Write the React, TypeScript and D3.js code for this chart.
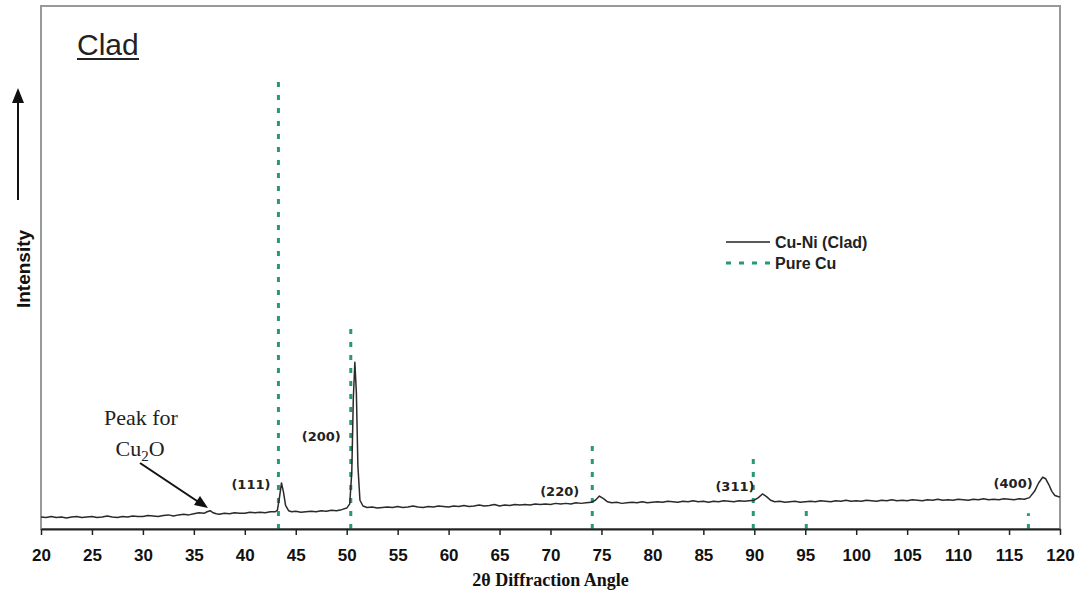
import React, { useEffect, useRef } from 'react';
import * as d3 from 'd3';

// Cu-Ni (Clad) scan: [2θ, intensity (a.u.)]
const cladScan: [number, number][] = [
  [20, 23], [20.5, 22], [21, 24], [21.5, 22], [22, 23], [22.5, 21], [23, 23], [23.5, 24], [24, 22], [24.5, 23],
  [25, 24], [25.5, 22], [26, 23], [26.5, 25], [27, 23], [27.5, 22], [28, 24], [28.5, 23], [29, 25], [29.5, 24],
  [30, 24], [30.5, 26], [31, 25], [31.5, 24], [32, 26], [32.5, 27], [33, 25], [33.5, 27], [34, 28], [34.5, 27],
  [35, 29], [35.5, 31], [36, 30], [36.3, 33], [36.6, 35], [36.9, 31], [37.2, 29], [37.5, 28], [38, 30], [38.5, 29],
  [39, 31], [39.5, 30], [40, 30], [40.5, 32], [41, 31], [41.5, 32], [42, 31], [42.5, 33], [43, 33], [43.2, 36],
  [43.4, 60], [43.6, 88], [43.8, 70], [44, 45], [44.3, 35], [44.6, 33], [45, 34], [45.5, 32], [46, 33], [46.5, 34],
  [47, 33], [47.5, 35], [48, 34], [48.5, 36], [49, 35], [49.5, 37], [50, 40], [50.3, 48], [50.5, 110], [50.65, 250],
  [50.8, 319], [50.95, 260], [51.1, 120], [51.3, 55], [51.6, 44], [52, 41], [52.5, 42], [53, 40], [53.5, 41], [54, 42],
  [54.5, 41], [55, 43], [55.5, 41], [56, 42], [56.5, 44], [57, 42], [57.5, 41], [58, 43], [58.5, 42], [59, 44],
  [59.5, 43], [60, 42], [60.5, 44], [61, 43], [61.5, 45], [62, 43], [62.5, 44], [63, 46], [63.5, 44], [64, 45],
  [64.5, 47], [65, 44], [65.5, 46], [66, 45], [66.5, 47], [67, 46], [67.5, 47], [68, 46], [68.5, 48], [69, 47],
  [69.5, 48], [70, 47], [70.5, 49], [71, 48], [71.5, 49], [72, 48], [72.5, 50], [73, 49], [73.5, 50], [74, 51],
  [74.4, 55], [74.8, 63], [75.2, 58], [75.6, 52], [76, 50], [76.5, 51], [77, 49], [77.5, 50], [78, 51], [78.5, 50],
  [79, 52], [79.5, 50], [80, 51], [80.5, 52], [81, 51], [81.5, 53], [82, 52], [82.5, 51], [83, 53], [83.5, 52],
  [84, 54], [84.5, 52], [85, 53], [85.5, 51], [86, 53], [86.5, 52], [87, 54], [87.5, 53], [88, 52], [88.5, 54],
  [89, 53], [89.5, 54], [90, 55], [90.4, 60], [90.8, 67], [91.2, 62], [91.6, 55], [92, 52], [92.5, 53], [93, 51],
  [93.5, 52], [94, 53], [94.5, 51], [95, 52], [95.5, 53], [96, 52], [96.5, 54], [97, 53], [97.5, 52], [98, 54],
  [98.5, 53], [99, 55], [99.5, 53], [100, 54], [100.5, 53], [101, 55], [101.5, 54], [102, 53], [102.5, 55], [103, 54],
  [103.5, 56], [104, 54], [104.5, 55], [105, 54], [105.5, 56], [106, 55], [106.5, 54], [107, 56], [107.5, 55], [108, 57],
  [108.5, 55], [109, 56], [109.5, 55], [110, 57], [110.5, 56], [111, 55], [111.5, 57], [112, 56], [112.5, 58], [113, 56],
  [113.5, 57], [114, 56], [114.5, 58], [115, 57], [115.5, 56], [116, 58], [116.5, 57], [117, 60], [117.5, 72], [117.9, 88],
  [118.3, 99], [118.6, 96], [118.9, 85], [119.2, 72], [119.5, 64], [119.8, 62], [120, 61],
];

// Pure Cu reference lines
const pureCuAngle = [43.3, 50.4, 74.1, 89.9, 95.1, 116.9];
const pureCuIntensity = [855, 396, 170, 147, 46, 30];

// hkl labels: text, anchor angle, height (a.u.)
const hklLabels = ['(111)', '(200)', '(220)', '(311)', '(400)'];
const hklAngle = [40.6, 47.5, 70.9, 88.1, 115.4];
const hklLevel = [77, 169, 63, 72, 79];

const xTicks = d3.range(20, 121, 5);

export default function App() {
  const svgRef = useRef<SVGSVGElement>(null);

  useEffect(() => {
    const width = 1081;
    const height = 595;
    const m = { left: 41, right: 21, top: 6, bottom: 66 };
    const svg = d3.select(svgRef.current);
    svg.selectAll('*').remove();
    svg.attr('width', width).attr('height', height);

    const x = d3.scaleLinear().domain([20, 120]).range([m.left, width - m.right]);
    const y = d3.scaleLinear().domain([0, 1000]).range([height - m.bottom, m.top]);

    const green = '#2a9870';
    const sans = 'Arial, "Liberation Sans", sans-serif';

    svg.append('rect').attr('width', width).attr('height', height).attr('fill', '#fff');

    // plot frame
    svg.append('rect')
      .attr('x', m.left).attr('y', m.top)
      .attr('width', width - m.left - m.right).attr('height', height - m.top - m.bottom)
      .attr('fill', 'none').attr('stroke', '#999').attr('stroke-width', 2);

    // pure Cu dashed lines
    svg.selectAll('line.cu')
      .data(pureCuAngle)
      .enter()
      .append('line')
      .attr('class', 'cu')
      .attr('x1', d => x(d)).attr('x2', d => x(d))
      .attr('y1', y(0)).attr('y2', (d, i) => y(pureCuIntensity[i]))
      .attr('stroke', green).attr('stroke-width', 3)
      .attr('stroke-dasharray', '5,8');

    // clad scan
    const line = d3.line<[number, number]>().x(d => x(d[0])).y(d => y(d[1]));
    svg.append('path')
      .attr('d', line(cladScan))
      .attr('fill', 'none').attr('stroke', '#2a2a2a').attr('stroke-width', 1.5)
      .attr('stroke-linejoin', 'round');

    // x axis
    const xAxis = svg.append('g')
      .attr('transform', `translate(0,${y(0)})`)
      .call(d3.axisBottom(x).tickValues(xTicks).tickSize(6).tickSizeOuter(0).tickPadding(14));
    xAxis.select('.domain').attr('stroke', '#222').attr('stroke-width', 2);
    xAxis.selectAll('.tick line').attr('stroke', '#222').attr('stroke-width', 1.5);
    xAxis.selectAll('.tick text')
      .attr('font-family', sans).attr('font-size', 17).attr('font-weight', 'bold').attr('fill', '#111');

    svg.append('text')
      .attr('x', (x(20) + x(120)) / 2).attr('y', 586)
      .attr('text-anchor', 'middle')
      .attr('font-family', '"Times New Roman", "Liberation Serif", serif')
      .attr('font-size', 18).attr('font-weight', 'bold').attr('fill', '#111')
      .text('2θ Diffraction Angle');

    // y label + arrow
    svg.append('text')
      .attr('transform', 'translate(30,269) rotate(-90)')
      .attr('text-anchor', 'middle')
      .attr('font-family', sans).attr('font-size', 19).attr('font-weight', 'bold').attr('fill', '#111')
      .text('Intensity');
    svg.append('line')
      .attr('x1', 18).attr('x2', 18).attr('y1', 200).attr('y2', 100)
      .attr('stroke', '#111').attr('stroke-width', 2);
    svg.append('path')
      .attr('d', 'M18,88 L12,103 L24,103 Z')
      .attr('fill', '#111');

    // title
    svg.append('text')
      .attr('x', 77).attr('y', 55)
      .attr('font-family', sans).attr('font-size', 30).attr('fill', '#222')
      .text('Clad');
    svg.append('line')
      .attr('x1', 77).attr('x2', 139).attr('y1', 59).attr('y2', 59)
      .attr('stroke', '#222').attr('stroke-width', 2);

    // hkl labels
    svg.selectAll('text.hkl')
      .data(hklLabels)
      .enter()
      .append('text')
      .attr('class', 'hkl')
      .attr('x', (d, i) => x(hklAngle[i]))
      .attr('y', (d, i) => y(hklLevel[i]))
      .attr('text-anchor', 'middle')
      .attr('font-family', '"DejaVu Sans", Verdana, sans-serif')
      .attr('font-size', 13).attr('font-weight', 'bold').attr('fill', '#222')
      .text(d => d);

    // Cu2O annotation
    const serif = '"Times New Roman", "Liberation Serif", serif';
    svg.append('text')
      .attr('x', 141).attr('y', 425).attr('text-anchor', 'middle')
      .attr('font-family', serif).attr('font-size', 22).attr('fill', '#222')
      .text('Peak for');
    const cu2o = svg.append('text')
      .attr('x', 140).attr('y', 456).attr('text-anchor', 'middle')
      .attr('font-family', serif).attr('font-size', 22).attr('fill', '#222');
    cu2o.append('tspan').text('Cu');
    cu2o.append('tspan').attr('font-size', 15).attr('dy', 5).text('2');
    cu2o.append('tspan').attr('dy', -5).text('O');

    svg.append('line')
      .attr('x1', 140).attr('y1', 463).attr('x2', 200).attr('y2', 503)
      .attr('stroke', '#111').attr('stroke-width', 2);
    svg.append('path')
      .attr('d', 'M208,508 L194,505 L200,496 Z')
      .attr('fill', '#111');

    // legend
    const legend = svg.append('g').attr('transform', 'translate(726,242)');
    legend.append('line')
      .attr('x1', 0).attr('x2', 44).attr('y1', 0).attr('y2', 0)
      .attr('stroke', '#222').attr('stroke-width', 1.5);
    legend.append('text')
      .attr('x', 49).attr('y', 6)
      .attr('font-family', sans).attr('font-size', 16).attr('font-weight', 'bold').attr('fill', '#222')
      .text('Cu-Ni (Clad)');
    legend.append('line')
      .attr('x1', 0).attr('x2', 44).attr('y1', 21).attr('y2', 21)
      .attr('stroke', green).attr('stroke-width', 3).attr('stroke-dasharray', '5,8');
    legend.append('text')
      .attr('x', 49).attr('y', 27)
      .attr('font-family', sans).attr('font-size', 16).attr('font-weight', 'bold').attr('fill', '#222')
      .text('Pure Cu');
  }, []);

  return <svg ref={svgRef} style={{ position: 'absolute', left: 0, top: 0, display: 'block' }}></svg>;
}
